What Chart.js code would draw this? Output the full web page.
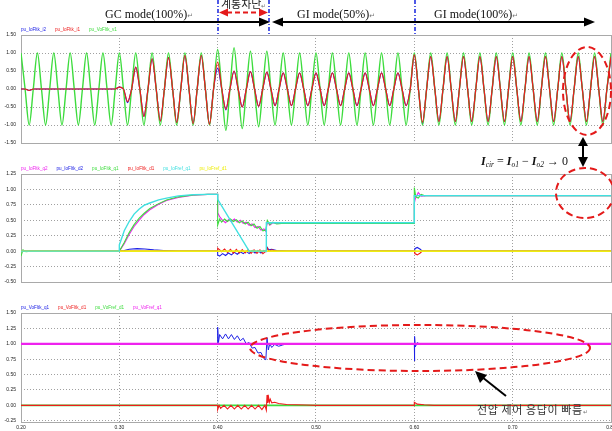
<!DOCTYPE html>
<html>
<head>
<meta charset="utf-8">
<script src="https://cdn.jsdelivr.net/npm/chart.js@4.4.1/dist/chart.umd.min.js"></script>
<style>
  html, body { margin: 0; padding: 0; background: #fff; }
  #wrap { position: relative; width: 612px; height: 431px; overflow: hidden; background: #fff; }
  canvas { position: absolute; left: 0; }
  #cWave { top: 0; }
  #cCurrent { top: 150px; }
  #cVoltage { top: 290px; }
  #notes { position: absolute; left: 0; top: 0; pointer-events: none; }
</style>
</head>
<body>
<div id="wrap">
  <canvas id="cWave" width="612" height="150"></canvas>
  <canvas id="cCurrent" width="612" height="140"></canvas>
  <canvas id="cVoltage" width="612" height="141"></canvas>
  <svg id="notes" width="612" height="431" viewBox="0 0 612 431">
    <!-- switching instants -->
    <g stroke="#2430e0" stroke-width="1.6" stroke-dasharray="4 2 1 2">
      <line x1="218" y1="0" x2="218" y2="36"/>
      <line x1="269" y1="0" x2="269" y2="36"/>
      <line x1="415" y1="0" x2="415" y2="36"/>
    </g>
    <!-- operating modes -->
    <g stroke="#000" stroke-width="1.8">
      <line x1="107" y1="22" x2="262" y2="22"/>
      <line x1="280" y1="22" x2="415" y2="22"/>
      <line x1="415" y1="22" x2="587" y2="22"/>
    </g>
    <g fill="#000">
      <polygon points="259,17.5 270,22 259,26.5"/>
      <polygon points="272,22 283,17.5 283,26.5"/>
      <polygon points="584,17.5 595,22 584,26.5"/>
    </g>
    <g font-family="'Liberation Serif', 'DejaVu Serif', serif" font-size="12" fill="#111">
      <text x="105" y="18">GC mode(100%)<tspan font-size="7" fill="#777" font-family="'DejaVu Sans'">↵</tspan></text>
      <text x="297" y="18">GI mode(50%)<tspan font-size="7" fill="#777" font-family="'DejaVu Sans'">↵</tspan></text>
      <text x="434" y="18">GI mode(100%)<tspan font-size="7" fill="#777" font-family="'DejaVu Sans'">↵</tspan></text>
    </g>
    <!-- grid disconnection interval -->
    <text x="221" y="7.5" font-family="'Noto Sans CJK KR', sans-serif" font-size="11" fill="#222">계통차단<tspan font-size="6" fill="#777">↵</tspan></text>
    <line x1="227" y1="12.5" x2="260" y2="12.5" stroke="#e41a1a" stroke-width="1.8" stroke-dasharray="5 3"/>
    <g fill="#e41a1a">
      <polygon points="219,12.5 228,8.5 228,16.5"/>
      <polygon points="268,12.5 259,8.5 259,16.5"/>
    </g>
    <!-- circulating current note -->
    <g fill="none" stroke="#e41a1a" stroke-width="2" stroke-dasharray="7 4">
      <ellipse cx="587" cy="91" rx="24" ry="44"/>
      <ellipse cx="585" cy="193" rx="29" ry="25"/>
      <ellipse cx="420" cy="348" rx="170" ry="23"/>
    </g>
    <line x1="583" y1="144" x2="583" y2="159" stroke="#000" stroke-width="2"/>
    <polygon points="583,137 578,146 588,146" fill="#000"/>
    <polygon points="583,167 578,157 588,157" fill="#000"/>
    <text x="481" y="165" font-family="'Liberation Serif', serif" font-size="12" fill="#111"><tspan font-style="italic" font-weight="bold">I</tspan><tspan font-style="italic" font-size="7.5" dy="2">cir</tspan><tspan dy="-2"> = </tspan><tspan font-style="italic" font-weight="bold">I</tspan><tspan font-style="italic" font-size="7.5" dy="2">o1</tspan><tspan dy="-2"> − </tspan><tspan font-style="italic" font-weight="bold">I</tspan><tspan font-style="italic" font-size="7.5" dy="2">o2</tspan><tspan dy="-2"> → 0</tspan></text>
    <!-- voltage control note -->
    <line x1="506" y1="396" x2="482" y2="377" stroke="#000" stroke-width="2"/>
    <polygon points="475,371 487,375 480,383" fill="#000"/>
    <text x="477" y="414" font-family="'Noto Sans CJK KR', sans-serif" font-size="11" letter-spacing="0.6" fill="#333">전압 제어 응답이 빠름<tspan font-size="6" fill="#777">↵</tspan></text>
  </svg>
</div>
<script>
// ---- axis ticks ----
const xTicks = [0.2, 0.3, 0.4, 0.5, 0.6, 0.7, 0.8];
const yTicksWave = [-1.5, -1.0, -0.5, 0, 0.5, 1.0, 1.5];
const yTicksCurrent = [-0.5, -0.25, 0, 0.25, 0.5, 0.75, 1.0, 1.25];
const yTicksVoltage = [-0.25, 0, 0.25, 0.5, 0.75, 1.0, 1.25, 1.5];

// ---- instantaneous waveforms: extrema of each half cycle (60 Hz), from t = 0.20 s ----
const waveStart = 0.2;
const halfPeriod = 1 / 120;
const voV1Peaks = [
  1.00, -1.00, 1.00, -1.00, 1.00, -1.00, 1.00, -1.00, 1.00, -1.00, 1.00, -1.00,
  1.00, -1.00, 1.00, -1.00, 1.00, -1.00, 1.00, -1.00, 1.00, -1.00, 1.00, -1.00,
  1.10, -1.15, 1.15, -1.10, 1.05, -1.05, 1.05, -1.00, 1.00, -1.00, 1.00, -1.00,
  1.00, -1.00, 1.00, -1.00, 1.00, -1.00, 1.00, -1.00, 1.00, -1.00, 1.00, -1.00,
  1.00, -1.00, 1.00, -1.00, 1.00, -1.00, 1.00, -1.00, 1.00, -1.00, 1.00, -1.00,
  1.00, -1.00, 1.00, -1.00, 1.00, -1.00, 1.00, -1.00, 1.00, -1.00, 1.00, -1.00,
  1.00
];
const ioI1Peaks = [
  0.00, -0.04, 0.00, 0.00, 0.00, 0.00, 0.00, 0.00, 0.00, 0.00, 0.00, 0.00,
  0.05, -0.35, 0.61, -0.76, 0.84, -0.89, 0.87, -0.93, 0.93, -0.96, 0.93, -0.98,
  0.75, -0.56, 0.50, -0.50, 0.48, -0.48, 0.47, -0.46, 0.45, -0.46, 0.45, -0.46,
  0.45, -0.46, 0.45, -0.46, 0.45, -0.46, 0.45, -0.46, 0.45, -0.46, 0.45, -0.46,
  0.95, -0.92, 0.90, -0.90, 0.90, -0.90, 0.90, -0.90, 0.90, -0.90, 0.90, -0.90,
  0.90, -0.90, 0.90, -0.90, 0.90, -0.90, 0.90, -0.90, 0.90, -0.90, 0.90, -0.90,
  0.90
];
const ioI2Peaks = [
  0.00, -0.04, 0.00, 0.00, 0.00, 0.00, 0.00, 0.00, 0.00, 0.00, 0.00, 0.00,
  0.05, -0.38, 0.61, -0.76, 0.84, -0.89, 0.87, -0.93, 0.93, -0.96, 0.93, -0.98,
  0.58, -0.58, 0.50, -0.50, 0.48, -0.48, 0.47, -0.46, 0.45, -0.46, 0.45, -0.46,
  0.45, -0.46, 0.45, -0.46, 0.45, -0.46, 0.45, -0.46, 0.45, -0.46, 0.45, -0.46,
  0.95, -0.96, 0.90, -0.90, 0.90, -0.90, 0.90, -0.90, 0.90, -0.90, 0.90, -0.90,
  0.90, -0.90, 0.90, -0.90, 0.90, -0.90, 0.90, -0.90, 0.90, -0.90, 0.90, -0.90,
  0.90
];

// ---- dq-frame currents [t, value] ----
const ioQ2 = [[0.2,0],[0.3,0],[0.305,0.12],[0.31,0.27],[0.315,0.4],[0.32,0.5],[0.325,0.59],[0.331,0.67],[0.34,0.76],[0.348,0.82],[0.36,0.87],[0.375,0.905],[0.39,0.92],[0.4,0.92],
  [0.4,0.62],[0.402,0.56],[0.405,0.5],[0.408,0.46],[0.411,0.51],[0.414,0.48],[0.417,0.52],[0.42,0.47],[0.423,0.5],[0.426,0.45],[0.429,0.47],[0.432,0.42],[0.435,0.44],[0.438,0.38],[0.441,0.4],[0.444,0.34],[0.447,0.36],[0.449,0.32],
  [0.4505,0.48],[0.453,0.42],[0.456,0.46],[0.46,0.45],[0.6,0.45],[0.6,0.78],[0.601,0.85],[0.604,0.95],[0.607,0.89],[0.612,0.9],[0.8,0.9]];
const ioD2 = [[0.2,0],[0.3,0],[0.305,0.01],[0.31,0.03],[0.318,0.04],[0.326,0.035],[0.335,0.02],[0.345,0.01],[0.36,0],[0.4,0],
  [0.4,-0.06],[0.402,-0.08],[0.405,-0.04],[0.408,-0.07],[0.411,-0.03],[0.414,-0.06],[0.417,-0.02],[0.42,-0.05],[0.423,-0.01],[0.426,-0.04],[0.429,0.0],[0.432,-0.04],[0.435,0.01],[0.438,-0.03],[0.441,0.01],[0.444,-0.03],[0.447,0.01],[0.449,-0.01],
  [0.4505,0.06],[0.452,0.02],[0.455,0.03],[0.46,0.01],[0.47,0],[0.6,0],[0.6005,0.04],[0.603,0.06],[0.606,0.03],[0.608,0],[0.8,0]];
const ioQ1 = [[0.2,-0.08],[0.202,0.02],[0.205,-0.01],[0.21,0],[0.3,0],[0.305,0.14],[0.31,0.3],[0.315,0.43],[0.32,0.53],[0.325,0.61],[0.331,0.69],[0.34,0.77],[0.348,0.83],[0.36,0.88],[0.375,0.91],[0.39,0.92],[0.4,0.92],
  [0.4,0.42],[0.402,0.52],[0.404,0.47],[0.407,0.52],[0.41,0.48],[0.413,0.52],[0.416,0.48],[0.419,0.51],[0.422,0.46],[0.425,0.49],[0.428,0.44],[0.431,0.47],[0.434,0.41],[0.437,0.44],[0.44,0.37],[0.443,0.4],[0.446,0.33],[0.449,0.34],
  [0.4505,0.5],[0.453,0.43],[0.456,0.47],[0.46,0.44],[0.465,0.45],[0.6,0.45],[0.6,1.03],[0.6015,0.88],[0.604,0.86],[0.607,0.92],[0.61,0.9],[0.8,0.9]];
const ioD1 = [[0.2,0],[0.4,0],[0.4,0.05],[0.4015,0.03],[0.404,-0.01],[0.407,0.035],[0.41,-0.02],[0.413,0.03],[0.416,-0.03],[0.419,0.03],[0.422,-0.03],[0.425,0.025],[0.428,-0.03],[0.431,0.025],[0.434,-0.035],[0.437,0.02],[0.44,-0.035],[0.443,0.02],[0.446,-0.04],[0.449,0.0],
  [0.4505,0.05],[0.452,0.0],[0.455,0.02],[0.46,0],[0.6,0],[0.6005,-0.04],[0.603,-0.06],[0.606,-0.03],[0.608,0],[0.8,0]];
const ioRefQ1 = [[0.2,0],[0.3,0],[0.3,0.1],[0.305,0.33],[0.31,0.48],[0.315,0.6],[0.32,0.68],[0.325,0.74],[0.331,0.78],[0.34,0.83],[0.348,0.86],[0.36,0.895],[0.375,0.915],[0.39,0.92],[0.4,0.92],
  [0.4,0.84],[0.432,0],[0.4495,0],[0.4495,0.46],[0.6,0.46],[0.6,0.9],[0.8,0.9]];
const ioRefD1 = [[0.2,0],[0.8,0]];

// ---- dq-frame voltages [t, value] ----
const voQ1 = [[0.2,1],[0.4,1],[0.4,1.27],[0.4008,1.02],[0.402,1.15],[0.405,1.08],[0.408,1.16],[0.411,1.08],[0.414,1.15],[0.417,1.07],[0.42,1.13],[0.423,1.05],[0.426,1.09],[0.429,1.0],[0.432,1.02],[0.435,0.93],[0.438,0.94],[0.441,0.85],[0.444,0.86],[0.447,0.76],[0.449,0.74],
  [0.4502,1.1],[0.4515,0.9],[0.453,1.0],[0.455,0.94],[0.458,0.99],[0.462,0.96],[0.466,0.98],[0.47,1.0],[0.6,1.0],[0.6,0.72],[0.6005,1.12],[0.601,0.95],[0.603,1.02],[0.606,0.99],[0.61,1.0],[0.8,1.0]];
const voD1 = [[0.2,0],[0.4,0],[0.4,-0.07],[0.4015,0.0],[0.403,-0.05],[0.4065,0.0],[0.41,-0.06],[0.4135,0.0],[0.417,-0.06],[0.4205,0.0],[0.424,-0.06],[0.4275,0.0],[0.431,-0.06],[0.4345,0.0],[0.438,-0.06],[0.4415,0.0],[0.445,-0.07],[0.448,0.0],[0.4495,-0.08],
  [0.4502,0.17],[0.451,0.04],[0.4518,0.13],[0.4526,0.05],[0.4535,0.1],[0.455,0.04],[0.458,0.05],[0.462,0.03],[0.47,0.015],[0.49,0.005],[0.5,0],[0.6,0],[0.6,0.05],[0.603,0.02],[0.61,0.01],[0.62,0],[0.8,0]];
const voRefD1 = [[0.2,0],[0.8,0]];
const voRefQ1 = [[0.2,1],[0.8,1]];

const COLORS = {
  blue: '#1f22e6', red: '#ee1c1c', green: '#3ddc3d', magenta: '#ee22ee',
  cyan: '#40e0e0', yellow: '#eeee10'
};

// half-cycle extrema with the zero crossings between them
function waveFromPeaks(peaks) {
  const pts = [];
  peaks.forEach((p, n) => {
    const t = waveStart + n * halfPeriod;
    pts.push({ x: t, y: p });
    if (n < peaks.length - 1) pts.push({ x: t + halfPeriod / 2, y: 0 });
  });
  return pts;
}
const toXY = arr => arr.map(([x, y]) => ({ x, y }));

function series(label, color, data, order, width, smooth) {
  return {
    label, data, order,
    borderColor: color, backgroundColor: color,
    borderWidth: width, pointRadius: 0, fill: false,
    tension: 0,
    cubicInterpolationMode: smooth ? 'monotone' : 'default'
  };
}

// plot frame
const framePlugin = {
  id: 'frame',
  beforeDatasetsDraw(chart) {
    const a = chart.chartArea, ctx = chart.ctx;
    ctx.save();
    ctx.strokeStyle = '#a9a9a9';
    ctx.lineWidth = 1;
    ctx.strokeRect(Math.round(a.left) + 0.5, Math.round(a.top) + 0.5,
                   Math.round(a.right - a.left), Math.round(a.bottom - a.top));
    ctx.restore();
  }
};

// series names written in their own colour above the plot
const nameRowPlugin = {
  id: 'nameRow',
  afterDraw(chart) {
    const ctx = chart.ctx, a = chart.chartArea;
    ctx.save();
    ctx.font = '4.6px "Liberation Sans", Arial, sans-serif';
    ctx.textBaseline = 'middle';
    ctx.textAlign = 'left';
    let x = a.left;
    chart.data.datasets.forEach(ds => {
      ctx.fillStyle = ds.borderColor;
      ctx.fillText(ds.label, x, a.top - 5.5);
      x += ctx.measureText(ds.label).width + 9;
    });
    ctx.restore();
  }
};

function buildScales(yMin, yMax, yTicks, showX, xHeight) {
  const tickFont = { size: 5, family: '"Liberation Sans", Arial, sans-serif' };
  const grid = { color: '#a0a0a0', lineWidth: 1, drawTicks: false, borderDash: [1, 2] };
  return {
    x: {
      type: 'linear', min: 0.2, max: 0.8,
      afterBuildTicks: s => { s.ticks = xTicks.map(v => ({ value: v })); },
      afterFit: s => { s.height = xHeight; s.paddingLeft = 0; s.paddingRight = 0; },
      grid, border: { display: false, dash: [1, 2] },
      ticks: { display: showX, padding: 3, font: tickFont, color: '#222', maxRotation: 0, autoSkip: false,
               callback: v => Number(v).toFixed(2) }
    },
    y: {
      type: 'linear', min: yMin, max: yMax,
      afterBuildTicks: s => { s.ticks = yTicks.map(v => ({ value: v })); },
      afterFit: s => { s.width = 21; s.paddingTop = 0; s.paddingBottom = 0; },
      grid, border: { display: false, dash: [1, 2] },
      ticks: { padding: 5, font: tickFont, color: '#222', autoSkip: false,
               callback: v => Number(v).toFixed(2) }
    }
  };
}

function makeChart(id, datasets, yMin, yMax, yTicks, showX, xHeight, topPad) {
  return new Chart(document.getElementById(id), {
    type: 'line',
    data: { datasets },
    options: {
      responsive: false, animation: false, devicePixelRatio: 1,
      layout: { padding: { top: topPad, left: 0, right: 1, bottom: 0 } },
      plugins: { legend: { display: false }, tooltip: { enabled: false } },
      scales: buildScales(yMin, yMax, yTicks, showX, xHeight)
    },
    plugins: [framePlugin, nameRowPlugin]
  });
}

makeChart('cWave', [
  series('pu_IoFltk_i2', COLORS.blue, waveFromPeaks(ioI2Peaks), 2, 1.2, true),
  series('pu_IoFltk_i1', COLORS.red, waveFromPeaks(ioI1Peaks), 0, 1.2, true),
  series('pu_VoFltk_v1', COLORS.green, waveFromPeaks(voV1Peaks), 1, 1.4, true)
], -1.5, 1.5, yTicksWave, false, 7, 35);

makeChart('cCurrent', [
  series('pu_IoFltk_q2', COLORS.magenta, toXY(ioQ2), 4, 1.1),
  series('pu_IoFltk_d2', COLORS.blue, toXY(ioD2), 5, 1.1),
  series('pu_IoFltk_q1', COLORS.green, toXY(ioQ1), 3, 1.1),
  series('pu_IoFltk_d1', COLORS.red, toXY(ioD1), 2, 1.1),
  series('pu_IoFref_q1', COLORS.cyan, toXY(ioRefQ1), 0, 1.4),
  series('pu_IoFref_d1', COLORS.yellow, toXY(ioRefD1), 1, 1.6)
], -0.5, 1.25, yTicksCurrent, false, 8, 24);

makeChart('cVoltage', [
  series('pu_VoFltk_q1', COLORS.blue, toXY(voQ1), 3, 1.0),
  series('pu_VoFltk_d1', COLORS.red, toXY(voD1), 1, 1.1),
  series('pu_VoFref_d1', COLORS.green, toXY(voRefD1), 2, 1.8),
  series('pu_VoFref_q1', COLORS.magenta, toXY(voRefQ1), 0, 2.2)
], -0.27, 1.5, yTicksVoltage, true, 9, 23);
</script>
</body>
</html>
